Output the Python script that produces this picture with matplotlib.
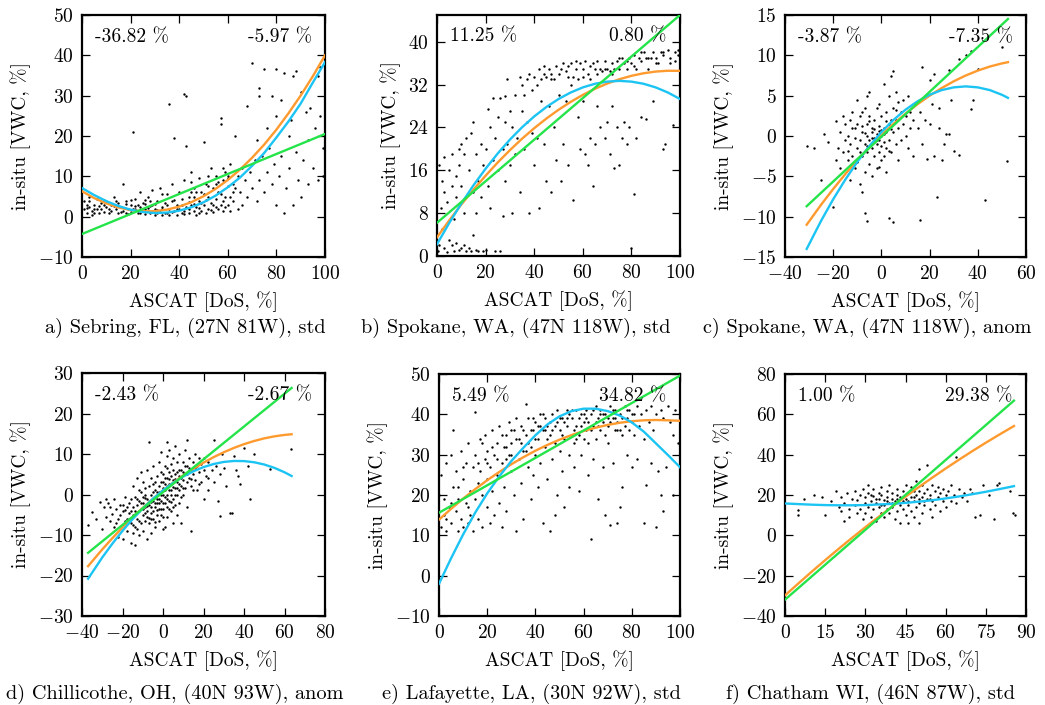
import matplotlib
matplotlib.use("Agg")
import matplotlib.pyplot as plt

plt.rcParams['font.family'] = 'serif'
plt.rcParams['font.serif'] = ['cmr10']
plt.rcParams['mathtext.fontset'] = 'cm'
plt.rcParams['axes.formatter.use_mathtext'] = True
plt.rcParams['axes.unicode_minus'] = True

# ---------------- data ----------------
captions = ["a) Sebring, FL, (27N 81W), std",
            "b) Spokane, WA, (47N 118W), std",
            "c) Spokane, WA, (47N 118W), anom",
            "d) Chillicothe, OH, (40N 93W), anom",
            "e) Lafayette, LA, (30N 92W), std",
            "f) Chatham WI, (46N 87W), std"]
left_labels = ["-36.82 %", "11.25 %", "-3.87 %", "-2.43 %", "5.49 %", "1.00 %"]
right_labels = ["-5.97 %", "0.80 %", "-7.35 %", "-2.67 %", "34.82 %", "29.38 %"]

xlims = [(0, 100), (0, 100), (-40, 60), (-40, 80), (0, 100), (0, 90)]
ylims = [(-10, 50), (0, 45), (-15, 15), (-30, 30), (-10, 50), (-40, 80)]
xticks = [[0, 20, 40, 60, 80, 100], [0, 20, 40, 60, 80, 100],
          [-40, -20, 0, 20, 40, 60], [-40, -20, 0, 20, 40, 60, 80],
          [0, 20, 40, 60, 80, 100], [0, 15, 30, 45, 60, 75, 90]]
yticks = [[-10, 0, 10, 20, 30, 40, 50], [0, 8, 16, 24, 32, 40],
          [-15, -10, -5, 0, 5, 10, 15], [-30, -20, -10, 0, 10, 20, 30],
          [-10, 0, 10, 20, 30, 40, 50], [-40, -20, 0, 20, 40, 60, 80]]

# fitted curves
a_lin_x = [0, 100]
a_lin_y = [-4.3, 20.5]
a_cx = [0, 5, 10, 15, 20, 25, 30, 35, 40, 45, 50, 55, 60, 65, 70, 75, 80, 85, 90, 95, 100]
a_org = [6.3, 4.62, 3.29, 2.29, 1.64, 1.33, 1.36, 1.75, 2.50, 3.60, 5.07, 6.90, 9.10, 11.67,
         14.61, 17.89, 21.58, 25.66, 30.04, 34.82, 40.0]
a_cyn = [7.1, 5.36, 3.85, 2.64, 1.73, 1.15, 0.91, 1.01, 1.48, 2.33, 3.57, 5.22, 7.29, 9.69,
         12.61, 15.81, 19.63, 23.64, 28.05, 33.26, 38.3]

b_lin_x = [0, 100]
b_lin_y = [6.2, 45.0]
b_cx = [0, 5, 10, 15, 20, 25, 30, 35, 40, 45, 50, 55, 60, 65, 70, 75, 80, 85, 90, 95, 100]
b_org = [3.5, 6.63, 9.6, 12.38, 15.0, 17.47, 19.76, 21.90, 23.86, 25.66, 27.30, 28.77, 30.08,
         31.22, 32.19, 33.0, 33.64, 34.12, 34.44, 34.59, 34.57]
b_cyn = [2.2, 6.14, 9.80, 13.19, 16.30, 19.15, 21.73, 24.03, 26.06, 27.82, 29.31, 30.53, 31.48,
         32.16, 32.56, 32.7, 32.56, 32.16, 31.48, 30.53, 29.31]

c_lin_x = [-31, 52.5]
c_lin_y = [-8.7, 14.5]
c_cx = [-31, -25, -20, -15, -10, -5, 0, 5, 10, 15, 20, 25, 30, 35, 40, 45, 50, 52.5]
c_org = [-11.0, -8.51, -6.57, -4.73, -3.01, -1.40, 0.10, 1.49, 2.77, 3.94, 5.0, 5.94, 6.78,
         7.50, 8.11, 8.61, 9.0, 9.15]
c_cyn = [-14.0, -10.5, -7.84, -5.42, -3.21, -1.25, 0.48, 1.99, 3.26, 4.30, 5.11, 5.69, 6.03,
         6.15, 6.03, 5.69, 5.11, 4.73]

d_lin_x = [-37, 63.5]
d_lin_y = [-14.4, 26.3]
d_cx = [-37, -30, -25, -20, -15, -10, -5, 0, 5, 10, 15, 20, 25, 30, 35, 40, 45, 50, 55, 60, 63.5]
d_org = [-17.70, -13.56, -10.78, -8.13, -5.63, -3.28, -1.07, 1.01, 2.93, 4.72, 6.36, 7.86,
         9.22, 10.43, 11.50, 12.43, 13.21, 13.86, 14.36, 14.71, 14.88]
d_cyn = [-20.8, -15.55, -12.13, -8.97, -6.07, -3.44, -1.07, 1.03, 2.86, 4.43, 5.73, 6.76,
         7.53, 8.04, 8.28, 8.25, 7.96, 7.40, 6.58, 5.49, 4.57]

e_lin_x = [0, 100]
e_lin_y = [15.6, 49.6]
e_cx = [0, 5, 10, 15, 20, 25, 30, 35, 40, 45, 50, 55, 60, 65, 70, 75, 80, 85, 90, 95, 100]
e_org = [13.9, 16.56, 19.1, 21.44, 23.66, 25.71, 27.62, 29.37, 30.98, 32.42, 33.72, 34.86,
         35.86, 36.69, 37.38, 37.91, 38.30, 38.52, 38.6, 38.52, 38.4]
e_cyn = [-2.0, 4.3, 10.2, 15.6, 20.4, 24.6, 28.4, 31.7, 34.8, 37.5, 39.5, 40.8, 41.4, 41.4,
         40.8, 39.7, 38.0, 35.7, 32.8, 29.9, 26.9]

f_lin_x = [0, 85.5]
f_lin_y = [-31.9, 66.8]
f_cx = [0, 5, 10, 15, 20, 25, 30, 35, 40, 45, 50, 55, 60, 65, 70, 75, 80, 85.5]
f_org = [-29.8, -23.84, -18.0, -12.30, -6.73, -1.29, 4.03, 9.20, 14.25, 19.17, 23.96, 28.61,
         33.14, 37.53, 41.80, 45.93, 49.93, 54.2]
f_cyn = [15.8, 15.5, 15.2, 15.0, 14.9, 14.9, 15.0, 15.3, 15.6, 16.1, 16.7, 17.4, 18.3, 19.3,
         20.4, 21.6, 22.9, 24.4]

# scatter points (x, y)
a_pts = [(1,2),(1,4),(2,1),(2,3),(3,5),(3,2.5),(4,1.5),(5,3),(5,0.8),(6,2),(6,4.5),(7,1),(8,3.5),(8,2),(9,1.2),
         (10,2.5),(10,4),(11,0.8),(12,3),(12,1.5),(13,5),(14,2),(15,1),(15,3.5),(16,2.5),(17,8),(17,1.5),(18,4),
         (19,2),(19,0.7),(20,3),(20,1.2),(21,2),(21,21),(22,4.5),(23,1),(23,2.8),(24,6),(25,1.5),(25,3.5),(26,0.6),
         (27,2.2),(27,5),(28,1),(29,3),(29,6.5),(30,0.5),(30,2),(31,4),(32,1.2),(32,7),(33,2.5),(33,0.4),(34,3.5),
         (35,1),(35,5.5),(36,28),(36,2),(36,0.3),(37,4),(37,8),(38,19.5),(38,1.5),(39,3),(39,0.5),(40,6),(40,2),
         (41,1),(41,4.5),(42,30.5),(42,9),(43,17.5),(43,2.5),(43,30),(44,0.8),(44,5),(45,11),(45,3),(46,1.5),(46,7),
         (47,2.5),(47,0.5),(48,4),(48,9.5),(49,1.5),(49,6),(50,3),(50,18.5),(51,1),(51,8),(52,5),(52,2),(53,12),
         (53,3.5),(54,1.2),(54,7),(55,4.5),(55,10),(56,2),(56,6),(57,23),(57,24.5),(57,3),(58,9),(58,1.5),(59,5),
         (59,11),(60,3),(60,7.5),(61,1.5),(61,13),(62,8),(62,4),(63,20),(64,2),(64,10),(65,6),(66,12),(66,3),(67,9),
         (68,27.5),(68,5),(69,11),(70,38),(70,7),(71,14),(72,19),(72,4),(73,32),(73,30),(73,9),(74,15),(75,36.5),
         (75,6),(76,11),(76,22),(77,17),(78,30),(78,8),(79,13),(80,36.5),(80,25),(80,3),(81,10),(82,29),(82,15),
         (83,35.5),(83,1),(84,7),(85,20),(85,12),(86,24),(87,35),(87,3),(88,36),(88,16),(89,9),(90,31),(90,5),
         (91,14),(92,26),(93,19),(93,8),(94,27),(95,12),(96,22),(97,35),(97,9),(98,37),(98,25),(99,17),(99,10),(100,30),
         (4,0.5),(9,2.8),(14,3.8),(18,0.9),(22,1.8),(24,2.4),(26,3.1),(28,2.6),(31,1.7),(34,0.9),(38,4.2),(42,1.4),
         (44,3.6),(46,4.8),(48,2.2),(50,5.5),(52,7.5),(54,3),(56,8.5),(58,4),(60,9.5),(62,6),(26,4.2),(33,5.5),(45,6.2),
         (2,2.2),(3,3.8),(5,1.8),(7,2.7),(9,4.2),(11,1.9),(13,2.6),(16,1.1),(18,3.1),(20,4.2),(22,2.6),(24,0.9),
         (26,1.9),(28,4),(30,3.2),(31,0.8),(33,1.8),(35,2.8),(37,1.1),(39,1.9),(41,2.8),(42,0.6),(44,2),(46,3.2),
         (48,1),(49,3.4),(51,4.2),(53,1.6),(55,2.4),(57,5.5),(59,2.5),(61,5),(63,7),(47,6),(45,8.5),(52,10),(55,8),
         (58,12),(60,10)]

b_pts = [(0.5,1),(1,2),(1,17),(1.5,9),(2,14),(2,5),(3,1.5),(3,12),(3,18.5),(4,0.8),(4,10),(5,16),(5,3),(6,2),(6,13),
         (6,19),(7,1),(7,7),(8,2.5),(8,15),(8,11),(9,1.2),(9,20),(9,17),(10,1.5),(10,21),(10,13),(11,2),(11,19),
         (11,8),(12,1),(12,22),(13,1.5),(13,16),(14,23),(14,1),(15,12),(15,25),(15,4),(16,1.2),(16,8),(16,19),
         (17,14),(17,1),(18,21),(18,11),(19,17),(19,1),(20,1.2),(20,20),(21,27.5),(21,13),(22,24),(22,9),(23,18),
         (23,29.5),(24,1),(24,22),(25,16),(25,26),(26,29.5),(26,1),(27,20),(27,7.5),(28,25),(28,14),(28,29.8),
         (29,21),(29,33),(30,17),(30,27),(31,24),(31,8),(32,30),(32,19),(33,22),(34,33.5),(34,12),(35,27),(35,32),
         (36,30),(36,20),(37,33),(37,25),(38,8),(38,34),(39,23),(39,31),(40,33.5),(40,17),(41,22),(42,35),(42,9),
         (43,33),(43,29),(44,34),(44,21),(45,33.5),(45,14),(46,35),(46,28),(47,12),(47,34),(48,33),(48,24),
         (49,35.5),(49,18),(50,34),(50,30),(51,14),(52,36),(52,21),(53,34.5),(53,29),(54,35.5),(54,17),(55,36),
         (55,32),(56,33.5),(56,10.5),(57,35),(58,33),(58,26),(59,36),(59,20),(60,35),(60,29),(61,36.5),(61,19),
         (62,34),(62,17),(63,33),(63,22),(64,36),(64,13),(65,35),(65,21),(66,36.5),(66,28),(67,35),(67,24),
         (68,34.5),(69,36.5),(69,22),(70,35),(70,25),(71,34.5),(71,19),(72,36),(72,28),(73,35),(73,16.5),
         (74,36.5),(74,24),(75,35),(75,17),(76,37),(76,22),(77,36),(77,25),(78,36.5),(78,21),(79,37),(79,24),
         (80,36),(80,1.5),(81,37.5),(81,11.5),(82,35),(82,22),(83,37),(84,36.5),(84,26),(85,38),(86,37),(86,25.5),
         (87,35),(88,37),(89,38),(89,29),(90,37),(91,36),(92,38),(93,20),(93,37.5),(94,21),(95,38.5),(96,37),
         (97,24.5),(98,38),(99,37.5),(99,38.5),
         (41,32),(44,35.5),(47,33),(51,35),(54,33.5),(57,36.5),(60,33.5),(63,35.5),(66,34),(69,35),(72,34),
         (75,37),(78,35),(81,35.5),(84,38),(87,37),(90,36),(93,38),(96,36),(98,36.5)]

c_pts = [(-31,-1.2),(-28,-1.5),(-25,-5.5),(-24,0.3),(-22,-0.8),(-20,-8.8),(-19,1.8),(-19,-3),(-18,-1.5),(-17,0.5),
         (-17,-4),(-16,2.5),(-16,-2),(-15,-0.5),(-15,1.5),(-14,-3),(-14,0),(-13,-5.5),(-13,2),(-13,-1),(-12,-2.5),
         (-12,1),(-12,3),(-11,-0.3),(-11,-4),(-10,1.5),(-10,-1.5),(-10,4.5),(-9,-0.5),(-9,-6),(-9,2.5),(-8,0.5),
         (-8,-2.5),(-8,-7),(-8,1.2),(-7,-1),(-7,3.5),(-7,-4.5),(-7,-9.5),(-6,0),(-6,-2),(-6,5),(-6,-10.5),(-6,1.5),
         (-5,-0.5),(-5,-3.5),(-5,2.5),(-5,5.5),(-4,0.5),(-4,-1.5),(-4,1),(-4,-5),(-3,-0.3),(-3,2),(-3,-2.5),
         (-3,-0.8),(-2,0.3),(-2,-1),(-2,3.5),(-2,-4),(-1,-0.5),(-1,1.2),(-1,-2),(-1,4),(0,0),(0,-1.2),(0,2.5),
         (0,-3),(1,-0.8),(1,1),(1,6.5),(1,-2.5),(2,0.5),(2,-1.5),(2,3),(2,-4.5),(3,-10.2),(3,1.5),(3,-0.5),(3,5),
         (4,2),(4,-2),(4,7.5),(5,8),(5,-10.6),(5,0.5),(5,3.5),(6,-1),(6,2),(6,5.5),(7,1),(7,-3),(8,3),(8,-0.5),
         (9,1.5),(9,4.5),(10,0),(10,2.5),(11,-1.5),(11,5),(12,3),(12,1),(13,2),(13,-2.5),(14,4),(15,1),(16,-10.4),
         (16,3),(17,8.5),(17,-1),(18,2),(18,5),(19,-2.8),(20,1.5),(20,7),(21,4),(22,7.7),(22,-2.5),(23,-7.6),
         (24,1),(24,3.5),(25,-3),(26,-1),(27,0.3),(28,8.2),(28,0.3),(29,4.5),(30,-1.8),(32,9.5),(32,-2.4),(35,10),
         (37,10.5),(37,3.3),(38,4.5),(40,8.3),(43,-7.9),(50,11),(52,-3.1),
         (-4,-0.2),(-2,-0.5),(-1,0.6),(0,0.8),(1,0.2),(-3,0.9),(-5,1.8),(-6,-1.2),(-7,0.4),(2,1.8),(3,-1.8),(4,0.9),
         (-9,-2),(-11,1),(-14,-1.8),(-10,-3.2),(6,3.2),(7,4.2),(-1,-3.8),(-8,3)]

d_pts = [(-37,-7.5),(-35,-4.3),(-33,-6),(-31,-1.8),(-30,-8.5),(-29,-3),(-28,-5.5),(-27,-2),(-26,-6.5),(-25,-4.8),
         (-24,-1),(-24,-8),(-23,-3.5),(-22,-6),(-22,-10.5),(-21,-2.5),(-21,-5),(-20,-7.5),(-20,-11),(-19,-3.8),
         (-19,-0.5),(-18,-6),(-18,-9),(-17,-2),(-17,-4.5),(-16,-12),(-16,-7),(-16,-1),(-15,-5),(-15,-3),(-15,2),
         (-14,-12.5),(-14,-8),(-14,-0.5),(-13,-6),(-13,-2.5),(-13,4),(-12,-4),(-12,-10),(-12,1),(-11,-7),(-11,-2),
         (-11,5.5),(-10,-5),(-10,-0.5),(-10,3),(-10,-9),(-9,-3),(-9,1.5),(-9,-6.5),(-8,-1),(-8,-4),(-8,6),(-8,-11),
         (-7,-2.5),(-7,2),(-7,-7),(-7,13),(-6,0),(-6,-4.5),(-6,4),(-6,-9.5),(-5,-1.5),(-5,2.5),(-5,-6),(-5,7),
         (-4,-3),(-4,1),(-4,-0.5),(-4,-8),(-3,0.5),(-3,-2),(-3,4.5),(-3,-5),(-2,2),(-2,-1),(-2,8),(-2,-6.5),
         (-1,-3.5),(-1,0),(-1,3),(-1,10.5),(0,1.5),(0,-2),(0,5),(0,-5.5),(1,-0.5),(1,2.5),(1,7),(1,-8),(2,0),
         (2,4),(2,-3),(2,13),(2,9.5),(3,1),(3,-1.5),(3,5.5),(3,11),(4,2.5),(4,-4),(4,7.5),(4,0),(5,3.5),(5,-1),
         (5,9),(5,-7),(6,1.5),(6,5),(6,-2.5),(6,12),(7,3),(7,0),(7,8),(7,-5),(8,4.5),(8,1),(8,10),(8,-2),(9,6),
         (9,2),(9,-7),(10,3.5),(10,8),(10,0),(11,5),(11,1.5),(11,11),(12,7),(12,13.5),(12,3),(12,-3),(13,4),
         (13,9),(14,6),(14,-9),(14,2),(15,8),(15,5),(16,3.5),(16,10),(17,7),(17,1),(18,5.5),(18,9),(19,3),
         (19,7.5),(20,6),(20,-1),(21,4.5),(22,8),(22,1),(24,6),(25,13.5),(25,3),(26,7),(27,-1.5),(28,-5.3),(28,5),
         (29,10),(30,6.5),(31,2),(33,-4.5),(34,-4.5),(35,9.5),(36,6),(37,4.5),(38,2.5),(40,11.5),(42,7),(43,-1),
         (45,10),(53,6.3),(63,11.2),
         (-12,-1.5),(-11,-3.5),(-10,-2),(-9,-0.8),(-8,-2.8),(-7,-1.5),(-6,-3),(-5,0.5),(-4,-2),(-3,-1),(-2,0.5),
         (-1,-1.5),(0,0),(1,1),(2,-1),(3,2.5),(4,1),(5,1.8),(6,0),(7,1.5),(8,2.5),(9,4),(-14,-4),(-15,-7.5),
         (-13,-8.5),(-17,-6),(-18,-3),(-11,0.5),(-9,-4.5),(-6,-6),(-4,3),(-1,5.5),(1,4),(3,-3.5),(5,6),(10,5.5),
         (12,5),(14,3.8),(16,6.5),(-20,-4),(-23,-7),(0,-8.5),(2,6.5),(-2,-3.5),(4,4.5),
         (-10,-3.5),(-8,-5.5),(-6,-1.8),(-5,-4),(-3,-3.8),(-2,-2.2),(0,-3.5),(1,-2),(2,2),(3,3.8),(4,-1.8),
         (6,3.8),(7,5.5),(8,6),(9,-0.5),(10,1.5),(11,7),(13,6.5),(-16,-4),(-19,-6.5),(-12,-6.5),(-7,-5.8),
         (-4,-6.8),(-1,-5),(0,3),(2,-5.5),(5,-3),(-9,0),(-13,-1),(-15,-9.5),(-20,-2.5),(15,1),(18,2.5),(20,9),
         (22,4),(-26,-3),(-28,-1)]

e_pts = [(0,20),(1,12),(1,25),(2,15),(2,19),(3,28),(3,11),(4,17),(5,30),(5,13),(6,22),(6,36),(7,16),(7,26),(8,11),
         (8,19),(9,31),(9,14),(10,24),(10,12),(11,18),(11,28),(12,13),(12,33),(13,21),(13,15),(14,27),(14,11),
         (15,40.5),(15,19),(15,30),(16,23),(16,14),(17,34),(17,26),(18,12),(18,20),(19,29),(19,35),(20,17),
         (20,24),(20,31),(21,13),(21,27),(22,36),(22,21),(23,15),(23,30),(24,33),(24,25),(25,18),(25,37),(26,28),
         (26,12),(27,32),(27,22),(28,35),(28,16),(29,30),(29,38),(30,26),(30,33),(31,20),(31,36),(32,39),(32,11),
         (33,29),(33,34),(34,23),(34,37),(35,31),(35,14),(36,42.5),(36,35),(37,27),(37,39),(38,32),(38,19),
         (39,36),(39,25),(40,38),(40,30),(41,22),(41,34),(42,40),(42,28),(43,36),(43,13),(44,32),(44,39),(45,24),
         (45,37),(46,35),(46,11),(47,40),(47,29),(48,33),(48,15),(49,38),(49,20),(50,36),(50,31),(51,39),(51,26),
         (52,34),(52,17),(53,41),(53,37),(54,30),(54,22),(55,39),(55,35),(56,33),(56,27),(57,41),(57,37),(58,35),
         (58,21),(59,40),(59,30),(60,38),(60,34),(61,41),(61,36),(62,33),(62,25),(63,40),(63,9),(64,37),(64,29),
         (65,42),(65,34),(66,39),(66,19),(67,36),(67,41),(68,27),(68,38),(69,40),(69,15),(70,37),(70,33),(71,42),
         (71,12.5),(72,39),(72,28),(73,36),(73,41),(74,13),(74,38),(75,17),(75,40),(76,35),(76,22),(77,42),
         (77,37),(78,39),(78,30),(79,36),(79,41),(80,38),(80,27),(81,35),(81,40),(82,29),(82,42),(83,37),(84,40),
         (85,34),(85,13),(86,41),(86,22.5),(87,38),(88,42),(88,28),(89,36),(90,12),(90,40),(91,26),(92,41),
         (92,20),(93,16),(93,39),(94,27),(95,42),(96,38),(97,35),(97,20),(98,41),(99,33),(100,42),(100,24),
         (44,36),(46,38),(48,37),(50,39),(52,38),(54,40),(56,36),(58,39),(60,40),(62,38),(64,41),(66,37),(68,40),
         (70,39),(72,41),(74,36),(76,39),(78,41),(80,40),(34,33),(36,31),(38,36),(40,34),(42,37),(30,30),(28,32),
         (20,28),(22,32),(24,29),(26,35),(28,29),(30,36),(32,34),(35,36),(37,33),(39,39),(41,37),(43,40),(45,34),
         (47,36),(49,41),(51,35),(53,39),(55,41),(57,34),(59,37),(61,39),(63,36),(65,38),(67,40),(69,35),(71,38),
         (73,39),(75,36),(5,18),(8,22),(12,17),(3,14),(10,27),(18,33),(16,28)]

f_pts = [(5,10),(5,12.5),(7,18),(11,20),(14,19),(15,10),(17,17),(19,22),(20,14),(21,12),(21,19),(22,7),(22,16),
         (23,21),(24,13),(24,9),(25,18),(26,15),(26,22),(27,11),(27,17.5),(28,20),(28,13),(29,8),(29,23),(30,16),
         (30,19),(30,11),(31,25),(31,14),(31,21),(32,17),(32,9),(33,19.5),(33,13),(33,23),(34,16),(34,7),(35,21),
         (35,14),(35,18),(36,11),(36,20),(36,24),(37,15),(37,17.5),(37,9),(38,22),(38,13),(38,19),(39,16),(39,25),
         (39,11),(40,18),(40,14),(40,21),(41,8),(41,17),(42,20),(42,12),(42,23),(43,15),(43,19),(43,6),(44,22),
         (44,13),(44,17),(45,10),(45,25),(45,18),(46,15),(46,21),(46,6),(47,19),(47,12),(47,24),(48,17),(48,9),
         (48,22),(49,20),(49,14),(49,27),(50,16),(50,22),(50,33),(50,6),(51,19),(51,11),(51,25),(52,21),(52,15),
         (53,35),(53,18),(53,23),(54,13),(54,20),(55,25),(55,17),(55,9),(56,22),(56,15),(57,19),(57,24),(58,12),
         (58,21),(59,17),(59,23),(60,20),(60,14),(61,22),(62,17),(62,25),(63,20),(64,39),(64,16),(65,23),(66,19),
         (67,21),(68,17),(69,23),(70,21),(71,9),(73,10),(74,25),(76,20),(78,8),(79,25),(80,26),(84,22),(85,11),
         (86,10),(32,20),(34,18),(36,15),(38,17),(40,16),(42,18),(44,19),(46,17),(48,19),(50,18),(52,17),(54,18)]

lin_x = [a_lin_x, b_lin_x, c_lin_x, d_lin_x, e_lin_x, f_lin_x]
lin_y = [a_lin_y, b_lin_y, c_lin_y, d_lin_y, e_lin_y, f_lin_y]
curve_x = [a_cx, b_cx, c_cx, d_cx, e_cx, f_cx]
org_y = [a_org, b_org, c_org, d_org, e_org, f_org]
cyn_y = [a_cyn, b_cyn, c_cyn, d_cyn, e_cyn, f_cyn]
points = [a_pts, b_pts, c_pts, d_pts, e_pts, f_pts]

# ---------------- layout ----------------
W, H = 1045, 705
fig = plt.figure(figsize=(W / 100, H / 100), dpi=100)

# axes boxes in pixels: (left, top, right, bottom)
boxes = [(82, 15, 325, 257), (437, 15, 680, 256), (785, 15, 1026, 257),
         (82, 373, 325, 616), (439, 374, 680, 616), (785, 374, 1026, 616)]
cap_pos = [(185, 328), (516, 328), (867, 328), (175, 694), (531, 694), (870, 694)]

GREEN = '#24e44a'
ORANGE = '#ff9a2e'
CYAN = '#1cc4f4'
FS = 14
CAP_FS = 14.6

for i in range(6):
    l, t, r, b = boxes[i]
    ax = fig.add_axes([l / W, 1 - b / H, (r - l) / W, (b - t) / H])
    xs = [p[0] for p in points[i]]
    ys = [p[1] for p in points[i]]
    ax.scatter(xs, ys, s=3.0, c='black', linewidths=0, zorder=2)
    ax.plot(curve_x[i], org_y[i], color=ORANGE, lw=1.7, zorder=3)
    ax.plot(curve_x[i], cyn_y[i], color=CYAN, lw=1.7, zorder=4)
    ax.plot(lin_x[i], lin_y[i], color=GREEN, lw=1.7, zorder=5)
    ax.set_xlim(*xlims[i])
    ax.set_ylim(*ylims[i])
    ax.set_xticks(xticks[i])
    ax.set_yticks(yticks[i])
    ax.tick_params(direction='in', top=True, right=True, length=6, width=0.9,
                   labelsize=FS, pad=6)
    for sp in ax.spines.values():
        sp.set_linewidth(1.6)
    ax.set_xlabel('ASCAT [DoS, %]', fontsize=FS, labelpad=6)
    ax.set_ylabel('in-situ [VWC, %]', fontsize=FS, labelpad=5)
    ax.text(0.055, 0.91, left_labels[i], transform=ax.transAxes, ha='left', va='center',
            fontsize=FS, zorder=6)
    ax.text(0.945, 0.91, right_labels[i], transform=ax.transAxes, ha='right', va='center',
            fontsize=FS, zorder=6)
    cx, cy = cap_pos[i]
    fig.text(cx / W, 1 - cy / H, captions[i], ha='center', va='center', fontsize=CAP_FS)

fig.savefig('out.png', dpi=100)
